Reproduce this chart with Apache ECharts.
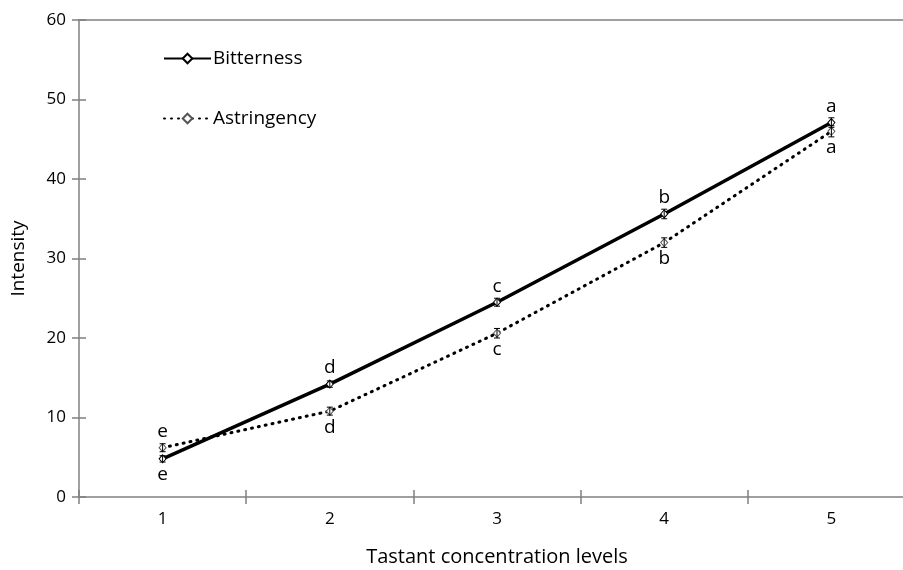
<!DOCTYPE html>
<html><head><meta charset="utf-8">
<script src="https://cdn.jsdelivr.net/npm/echarts@6/dist/echarts.min.js"></script>
<style>html,body{margin:0;padding:0;background:#fff}#c{width:903px;height:570px}</style>
</head><body><div id="c"></div>
<script>
const categories = ['1','2','3','4','5'];
const bitterness = [4.8, 14.2, 24.5, 35.6, 47.1];
const astringency = [6.2, 10.8, 20.6, 32.0, 46.0];
const bitternessErr = [0.4, 0.4, 0.5, 0.6, 0.6];
const astringencyErr = [0.5, 0.5, 0.6, 0.6, 0.7];
const bitternessLetters = ['e','d','c','b','a'];
const astringencyLetters = ['e','d','c','b','a'];
const yTicks = [0,10,20,30,40,50,60];

const font = 'Open Sans';
const chart = echarts.init(document.getElementById('c'));

function errSeries(vals, errs) {
  return {
    type: 'custom', xAxisIndex: 0, yAxisIndex: 0, silent: true, z: 5,
    data: vals.map((v,i)=>[i, v-errs[i], v+errs[i]]),
    renderItem: function(params, api) {
      const x = api.coord([api.value(0), api.value(1)])[0];
      const lo = api.coord([api.value(0), api.value(1)])[1];
      const hi = api.coord([api.value(0), api.value(2)])[1];
      const w = 3;
      const st = {stroke:'#000', lineWidth:1};
      return {type:'group', children:[
        {type:'line', shape:{x1:x,y1:lo,x2:x,y2:hi}, style:st},
        {type:'line', shape:{x1:x-w,y1:lo,x2:x+w,y2:lo}, style:st},
        {type:'line', shape:{x1:x-w,y1:hi,x2:x+w,y2:hi}, style:st}
      ]};
    }
  };
}

// label placement: the higher series gets its letter above, the lower below
const bitternessData = bitterness.map((v,i)=>({value:v, label:{position: v >= astringency[i] ? 'top' : 'bottom'}}));
const astringencyData = astringency.map((v,i)=>({value:v, label:{position: v > bitterness[i] ? 'top' : 'bottom'}}));

const axisColor = '#808080';
chart.setOption({
  animation: false,
  backgroundColor: '#fff',
  grid: {left: 79, width: 836, top: 20, bottom: 73, containLabel: false, outerBoundsMode: 'none'},
  legend: {
    orient: 'vertical', left: 163, top: 49, itemGap: 41, padding: 0,
    itemWidth: 47, itemHeight: 12,
    textStyle: {fontFamily: font, fontSize: 19, color: '#000', padding:[0,0,0,-3]},
    data: ['Bitterness','Astringency']
  },
  xAxis: [
    {type:'category', data: categories, boundaryGap: true, position:'bottom',
     axisLine:{lineStyle:{color:axisColor, width:1.5}},
     axisTick:{show:true, inside:false, length:7, lineStyle:{color:axisColor, width:1.5}},
     axisLabel:{fontFamily:font, fontSize:17, color:'#000', margin:14},
     name:'Tastant concentration levels', nameLocation:'middle', nameGap:50,
     nameTextStyle:{fontFamily:font, fontSize:20, color:'#000'}},
    {type:'category', data: categories, boundaryGap: true, position:'bottom',
     axisLine:{show:false},
     axisTick:{show:true, inside:true, length:7, lineStyle:{color:axisColor, width:1.5}},
     axisLabel:{show:false}},
    {type:'category', data: categories, boundaryGap: true, position:'top',
     axisLine:{show:true, lineStyle:{color:axisColor, width:1.5}},
     axisTick:{show:false}, axisLabel:{show:false}}
  ],
  yAxis: [
    {type:'value', min:0, max:60, interval:10, position:'left',
     axisLine:{show:true, lineStyle:{color:axisColor, width:1.5}},
     axisTick:{show:true, inside:false, length:7, lineStyle:{color:axisColor, width:1.5}},
     splitLine:{show:false},
     axisLabel:{fontFamily:font, fontSize:17, color:'#000', margin:13,
       formatter: v => yTicks.includes(v) ? String(v) : ''},
     name:'Intensity', nameLocation:'middle', nameGap:51, nameRotate:90,
     nameTextStyle:{fontFamily:font, fontSize:19, color:'#000'}},
    {type:'value', min:0, max:60, interval:10, position:'left',
     axisLine:{show:false},
     axisTick:{show:true, inside:true, length:7, lineStyle:{color:axisColor, width:1.5}},
     splitLine:{show:false}, axisLabel:{show:false}}
  ],
  series: [
    {name:'Bitterness', type:'line', data: bitternessData, z: 4,
     lineStyle:{color:'#000', width:3.5, type:'solid'},
     symbol:'diamond', symbolSize:[7,8], itemStyle:{color:'#fff', borderColor:'#000', borderWidth:1},
     label:{show:true, formatter: p => bitternessLetters[p.dataIndex],
       fontFamily:font, fontSize:19, color:'#000', distance:2}},
    {name:'Astringency', type:'line', data: astringencyData, z: 3,
     lineStyle:{color:'#000', width:3, type:[1,6], cap:'round'},
     symbol:'diamond', symbolSize:[7,8], itemStyle:{color:'#fff', borderColor:'#555', borderWidth:1},
     label:{show:true, formatter: p => astringencyLetters[p.dataIndex],
       fontFamily:font, fontSize:19, color:'#000', distance:2}},
    errSeries(bitterness, bitternessErr),
    errSeries(astringency, astringencyErr)
  ]
});
</script></body></html>
